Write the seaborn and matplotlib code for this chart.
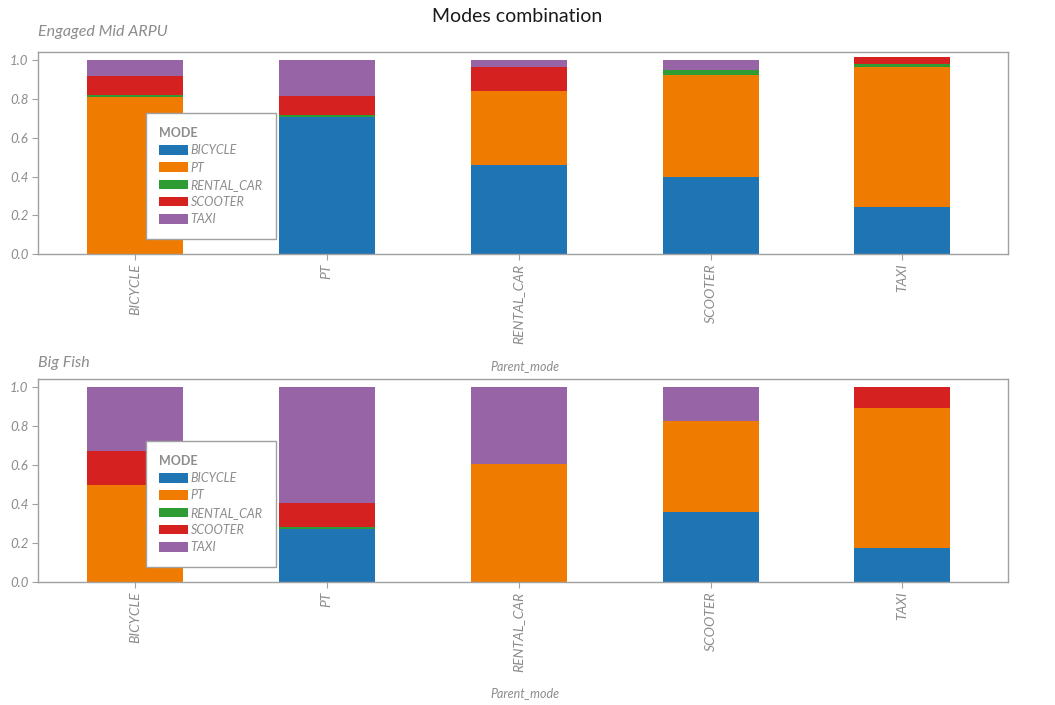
import numpy as np
import pandas as pd
import matplotlib
matplotlib.use("Agg")
import matplotlib.pyplot as plt
from matplotlib.patches import Patch
import seaborn as sns

sns.set_style("white")
plt.rcParams['font.family'] = ['Lato', 'DejaVu Sans']

parent_modes = ["BICYCLE", "PT", "RENTAL_CAR", "SCOOTER", "TAXI"]
modes = ["BICYCLE", "PT", "RENTAL_CAR", "SCOOTER", "TAXI"]

# Engaged Mid ARPU: share of each MODE per parent mode
emid_bicycle    = [0.000, 0.705, 0.460, 0.400, 0.245]
emid_pt         = [0.810, 0.000, 0.383, 0.524, 0.722]
emid_rental_car = [0.012, 0.012, 0.000, 0.026, 0.014]
emid_scooter    = [0.095, 0.099, 0.122, 0.000, 0.036]
emid_taxi       = [0.083, 0.184, 0.035, 0.050, 0.000]

# Big Fish
bf_bicycle    = [0.000, 0.273, 0.000, 0.362, 0.173]
bf_pt         = [0.497, 0.000, 0.604, 0.463, 0.719]
bf_rental_car = [0.000, 0.008, 0.000, 0.000, 0.000]
bf_scooter    = [0.175, 0.127, 0.000, 0.000, 0.108]
bf_taxi       = [0.328, 0.592, 0.396, 0.175, 0.000]

colors = ["#1f74b4", "#ef7b00", "#2e9b33", "#d52220", "#9765a6"]
grey = "#8c8c8c"

panels = [
    ("Engaged Mid ARPU", [emid_bicycle, emid_pt, emid_rental_car, emid_scooter, emid_taxi]),
    ("Big Fish", [bf_bicycle, bf_pt, bf_rental_car, bf_scooter, bf_taxi]),
]

fig = plt.figure(figsize=(10.55, 7.05), dpi=100)
W, H = 1055, 705
axes_boxes = [(38, 52, 1008, 254), (38, 379, 1008, 582)]
title_y = [32, 363]
xlabel_y = [366, 693]

fig.text(517 / W, 1 - 16 / H, "Modes combination", ha="center", va="center",
         fontsize=14, color="#1a1a1a")

for (title, series), (x0, y0, x1, y1), ty, xly in zip(panels, axes_boxes, title_y, xlabel_y):
    ax = fig.add_axes([x0 / W, 1 - y1 / H, (x1 - x0) / W, (y1 - y0) / H])
    cum = np.cumsum(np.array(series), axis=0)
    # draw from the top layer down so lower layers overlay
    for i in range(len(modes) - 1, -1, -1):
        df = pd.DataFrame({"Parent_mode": parent_modes, "value": cum[i]})
        sns.barplot(data=df, x="Parent_mode", y="value", order=parent_modes,
                    color=colors[i], width=0.5, saturation=1, linewidth=0,
                    ax=ax, errorbar=None)
    ax.set_xlim(-0.505, 4.55)
    ax.set_ylim(0, 1.043)
    ax.set_yticks(np.arange(0, 1.01, 0.2))
    ax.set_yticklabels([f"{v:.1f}" for v in np.arange(0, 1.01, 0.2)])
    for sp in ax.spines.values():
        sp.set_color("#a0a0a0")
        sp.set_linewidth(1.0)
    ax.tick_params(axis="both", colors="#a0a0a0", labelcolor=grey, length=4,
                   width=0.8, labelsize=10, left=True, bottom=True, pad=3)
    plt.setp(ax.get_xticklabels(), rotation=90, fontstyle="italic")
    plt.setp(ax.get_yticklabels(), fontstyle="italic", fontsize=9.5)
    ax.set_ylabel("")
    ax.set_xlabel("")
    fig.text(525 / W, 1 - xly / H, "Parent_mode", ha="center", va="center",
             fontsize=9, fontstyle="italic", color=grey)
    fig.text(x0 / W, 1 - ty / H, title, ha="left", va="center", fontsize=11.5,
             fontstyle="italic", color=grey)
    handles = [Patch(facecolor=c, edgecolor="none") for c in colors]
    leg = ax.legend(handles, modes, title="MODE", loc="lower left",
                    bbox_to_anchor=(0.111, 0.074), borderaxespad=0,
                    frameon=True, fancybox=False,
                    framealpha=1, handlelength=2.3, handleheight=0.8,
                    handletextpad=0.2, labelspacing=0.42, borderpad=1.1,
                    alignment="left",
                    prop={"size": 9, "style": "italic"},
                    title_fontproperties={"size": 9, "weight": "bold"})
    leg.get_frame().set_edgecolor("#a0a0a0")
    leg.get_frame().set_linewidth(1.0)
    leg.get_title().set_color(grey)
    for t in leg.get_texts():
        t.set_color(grey)

fig.savefig("out.png", dpi=100, facecolor="white")
